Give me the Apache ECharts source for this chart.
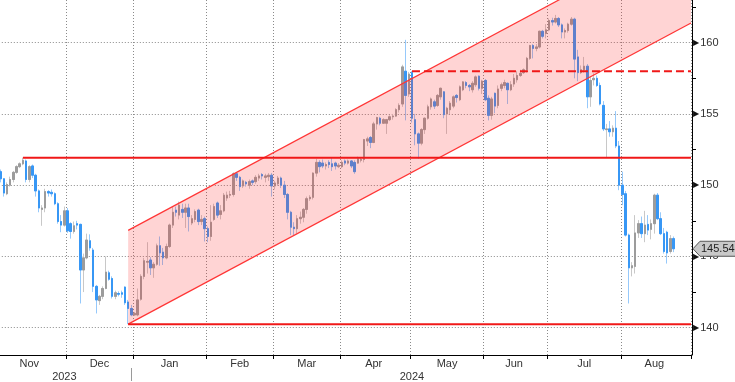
<!DOCTYPE html>
<html><head><meta charset="utf-8">
<script src="https://cdn.jsdelivr.net/npm/echarts@6/dist/echarts.min.js"></script>
<style>html,body{margin:0;padding:0;background:#fff}#c{width:735px;height:382px}</style>
</head><body><div id="c"></div>
<script>
// ---- DATA: daily candles [open, close, low, high] ----
const ohlcNov2023 = [
[151.65,150.95,150.75,151.75],[150.95,150.45,150.2,151.1],[150.45,149.45,149.2,150.5],[149.4,150.05,149.3,150.2],
[150.0,150.4,149.9,150.6],[150.4,150.9,150.2,151.0],[150.9,151.3,150.8,151.4],[151.3,151.5,151.2,151.6],
[151.5,151.75,151.4,151.92],[151.7,150.4,150.2,151.8],[150.4,151.3,150.2,151.4],[151.35,150.7,150.5,151.45],
[150.7,149.6,149.2,150.8],[149.6,148.4,148.1,149.7],[148.3,148.4,147.15,148.6],[148.4,149.55,148.1,149.75],
[149.55,149.45,149.2,149.65],[149.5,149.4,149.2,149.7],[149.4,148.7,148.6,149.5],[148.7,147.45,147.3,148.8],
[147.45,147.2,146.7,147.9],[147.2,148.2,147.1,148.5]];
const ohlcDec2023 = [
[148.2,146.8,146.65,148.4],[147.3,146.75,146.25,147.4],[146.75,147.15,146.6,147.45],[147.3,147.2,146.9,147.5],
[147.25,144.05,141.7,147.3],[144.05,144.9,142.5,145.2],[144.9,146.15,144.8,146.6],[146.1,145.6,145.4,146.55],
[145.45,142.9,142.5,145.6],[142.9,141.95,141.0,143.0],[141.9,142.2,141.6,142.3],[142.2,142.75,142.0,142.9],
[142.75,143.9,142.7,145.0],[143.85,143.4,143.3,144.0],[143.45,142.2,142.05,143.6],[142.2,142.45,142.0,142.6],
[142.4,142.35,142.2,142.55],[142.45,142.35,142.1,142.6],[142.85,141.75,141.6,142.9],[141.8,141.35,140.25,141.95],
[141.35,140.9,140.8,141.6]];
const ohlcJan2024 = [
[140.9,141.0,140.85,141.1],[140.9,141.95,140.8,142.75],[142.0,143.6,141.9,143.75],[143.6,144.7,143.4,144.9],
[144.6,144.65,143.8,146.0],[144.75,144.2,143.7,144.95],[144.2,144.45,143.5,144.6],[144.45,145.75,144.35,145.9],
[145.75,145.25,144.35,146.4],[145.3,144.9,144.4,145.6],[144.9,145.7,144.8,145.9],[145.7,147.2,145.6,147.3],
[147.2,148.1,147.0,148.5],[148.25,148.1,147.8,148.5],[147.9,148.6,147.6,148.85],[148.3,148.1,147.7,148.7],
[148.1,148.4,147.0,148.7],[148.4,147.8,146.75,148.7],[147.35,147.65,147.2,147.9],[147.6,148.15,147.4,148.3],
[148.25,147.45,147.2,148.35],[147.45,147.6,147.2,147.9],[147.65,146.95,146.05,147.8]];
const ohlcFeb2024 = [
[146.95,146.4,146.0,147.1],[146.4,147.4,146.1,148.6],[147.6,148.5,147.5,148.7],[148.75,147.9,147.7,148.85],
[147.95,148.2,147.6,148.6],[148.2,149.3,148.1,149.45],[149.1,149.3,148.9,149.55],[149.3,149.35,149.1,149.6],
[149.35,150.8,149.2,150.9],[150.8,150.55,150.3,150.9],[150.55,149.9,149.6,150.65],[149.95,150.3,149.8,150.4],
[150.2,150.1,149.9,150.3],[150.0,150.25,149.75,150.4],[150.3,150.2,150.0,150.4],[150.25,150.55,150.1,150.7],
[150.5,150.65,150.3,150.8],[150.75,150.65,150.4,150.85],[150.55,150.65,150.2,150.8],[150.6,150.7,150.3,150.85],
[150.7,149.95,149.2,150.85]];
const ohlcMar2024 = [
[149.95,150.15,149.7,150.3],[150.1,150.5,149.95,150.65],[150.5,150.0,149.8,150.6],[150.0,149.35,149.1,150.3],
[149.35,148.1,147.6,149.45],[148.1,147.05,146.5,148.2],[147.05,146.95,146.5,147.4],[146.95,147.65,146.6,147.9],
[147.65,147.75,147.3,148.15],[147.75,148.3,147.4,148.4],[148.3,149.05,148.0,149.2],[149.05,149.15,148.9,149.3],
[149.15,150.85,149.0,150.9],[150.85,151.6,150.6,151.85],[151.6,151.3,150.9,151.75],[151.55,151.35,151.2,151.8],
[151.35,151.45,151.1,151.6],[151.6,151.45,151.2,151.75],[151.5,151.3,151.0,151.97],[151.55,151.35,151.1,151.65],
[151.3,151.4,151.2,151.55]];
const ohlcApr2024 = [
[151.3,151.6,151.2,151.75],[151.7,151.55,151.4,151.8],[151.55,151.7,151.45,151.8],[151.7,151.35,151.2,151.75],
[151.6,150.95,150.8,151.75],[151.55,151.85,151.5,152.0],[151.75,151.8,151.6,151.95],[151.8,153.2,151.6,153.25],
[153.1,153.25,152.75,153.4],[153.35,153.0,152.6,153.45],[153.0,154.3,152.95,154.45],[154.3,154.75,153.9,154.8],
[154.7,154.35,154.2,154.8],[154.35,154.6,154.3,154.7],[154.35,154.6,153.6,154.65],[154.6,154.8,154.5,154.9],
[154.8,154.85,154.6,155.0],[154.85,155.3,154.8,155.4],[155.3,155.6,155.1,155.75],[155.7,158.3,155.5,158.45],
[158.0,156.3,154.55,160.2],[156.4,157.8,156.2,157.95]];
const ohlcMay2024 = [
[157.9,154.7,154.4,158.0],[154.6,153.6,152.8,155.0],[153.6,152.95,151.86,153.7],[152.95,153.9,152.8,154.0],
[153.9,154.7,153.6,154.75],[154.7,155.5,154.6,155.65],[155.5,156.05,155.3,156.15],[155.85,155.55,155.35,156.0],
[155.6,156.3,155.5,156.4],[156.2,156.8,156.0,156.85],[156.55,154.95,154.7,156.6],[155.0,155.4,153.6,155.5],
[155.3,155.75,155.0,155.9],[155.55,156.2,155.4,156.3],[156.3,156.15,155.8,156.4],[156.0,156.9,155.9,157.0],
[156.7,157.25,156.6,157.3],[157.2,157.0,156.8,157.3],[157.0,156.9,156.6,157.1],[156.7,157.15,156.5,157.3],
[157.05,157.6,156.9,157.7],[157.65,156.8,156.65,157.7],[156.8,157.3,156.4,157.4]];
const ohlcJun2024 = [
[157.35,156.0,155.9,157.45],[156.1,154.9,154.55,156.3],[154.9,156.05,154.6,156.2],[156.45,155.55,155.05,156.5],
[155.6,156.75,155.4,157.0],[156.8,157.05,156.6,157.2],[157.0,157.2,156.8,157.4],[157.15,156.7,155.7,157.2],
[156.7,157.05,156.6,157.3],[157.1,157.5,156.9,157.8],[157.4,157.7,157.2,158.0],[157.7,157.85,157.6,158.1],
[157.9,158.1,157.8,158.2],[158.1,158.9,157.9,159.0],[158.9,159.8,158.8,159.85],[159.8,159.6,158.9,159.9],
[159.6,159.7,159.4,159.9],[159.7,160.8,159.6,160.85],[160.8,160.45,160.3,160.9],[160.65,160.9,160.3,161.3]];
const ohlcJul2024 = [
[160.9,161.55,160.8,161.7],[161.55,161.45,161.2,161.75],[161.45,161.7,161.35,161.95],[161.7,161.25,161.1,161.8],
[161.25,160.75,160.3,161.35],[160.75,160.85,160.3,161.0],[160.85,161.3,160.7,161.4],[161.3,161.65,161.2,161.8],
[161.65,158.85,157.5,161.75],[159.0,157.9,157.3,159.5],[157.9,158.1,157.8,158.4],[158.1,158.35,157.9,159.0],
[158.35,156.2,155.4,158.5],[156.2,157.35,155.5,157.6],[157.4,157.5,157.0,157.85],[157.5,157.0,156.9,157.7],
[157.0,155.7,155.6,157.2],[155.6,153.95,153.8,155.9],[153.9,153.95,151.95,154.3],[153.95,153.75,153.4,154.5],
[153.75,154.0,153.4,154.2],[154.0,152.75,152.6,155.2],[152.75,150.0,149.65,153.1]];
const ohlcAug2024 = [
[150.0,149.35,148.6,150.95],[149.4,146.5,146.4,149.6],[146.5,144.2,141.7,146.6],[144.2,144.35,143.6,144.6],
[144.3,146.65,143.8,147.9],[146.65,147.3,146.3,147.55],[147.3,146.6,146.3,147.8],[146.6,147.2,146.0,148.2],
[147.25,146.85,146.5,147.9],[146.9,147.3,146.2,147.6],[147.3,149.3,146.6,149.4],[149.3,147.65,147.55,149.45],
[147.65,146.6,146.5,148.1],[146.6,145.35,145.2,147.0],[146.7,145.25,144.5,146.8],[145.35,146.25,145.2,146.5],
[146.25,145.54,145.3,146.4]];

const monthNames = ['Jan','Feb','Mar','Apr','May','Jun','Jul','Aug','Sep','Oct','Nov','Dec'];
const yLabelValues = [140, 145, 150, 155, 160];
const levelLines = [
  {from: '2023-11-13', value: 151.92, dashed: false},
  {from: '2023-12-28', value: 140.25, dashed: false},
  {from: '2024-05-01', value: 158.0, dashed: true}
];
const channel = {from: '2023-12-28', lowStart: 140.25, to: '2024-08-30', lowEnd: 161.32, width: 6.58};
const lastPrice = 145.54;

// ---- categories: weekdays Nov 1 2023 .. Aug 30 2024 ----
const categories = [];
for (let d = new Date(Date.UTC(2023, 10, 1)); d <= new Date(Date.UTC(2024, 7, 30)); d.setUTCDate(d.getUTCDate() + 1)) {
  const wd = d.getUTCDay();
  if (wd === 0 || wd === 6) continue;
  categories.push(d.toISOString().slice(0, 10));
}
const ohlc = [].concat(ohlcNov2023, ohlcDec2023, ohlcJan2024, ohlcFeb2024, ohlcMar2024,
  ohlcApr2024, ohlcMay2024, ohlcJun2024, ohlcJul2024, ohlcAug2024);

// month starts / label positions
const monthStart = new Set();
const monthLabelIdx = new Map();
let s = 0;
for (let i = 1; i <= categories.length; i++) {
  if (i === categories.length || categories[i].slice(0, 7) !== categories[i - 1].slice(0, 7)) {
    monthStart.add(s);
    const mid = Math.floor((s + i - 1) / 2);
    monthLabelIdx.set(mid, monthNames[parseInt(categories[s].slice(5, 7), 10) - 1]);
    s = i;
  }
}
const yearLabelIdx = new Map();
let ys = 0;
let lastOfFirstYear = -1;
for (let i = 1; i <= categories.length; i++) {
  if (i === categories.length || categories[i].slice(0, 4) !== categories[i - 1].slice(0, 4)) {
    yearLabelIdx.set(Math.floor((ys + i - 1) / 2), categories[ys].slice(0, 4));
    if (lastOfFirstYear < 0 && i < categories.length) lastOfFirstYear = i - 1;
    ys = i;
  }
}

const wickData = ohlc.map(d => [d[0], d[1], d[2], d[3]]);
const bodyData = ohlc.map(d => [d[0], d[1], Math.min(d[0], d[1]), Math.max(d[0], d[1])]);

// ---- layout ----
const W = 735, H = 382;
const gridLeft = -4.2, gridRight = 44, gridTop = 0, gridBottom = 27;
const yMin = 138.084, yMax = 162.996;
const plotH = H - gridTop - gridBottom;
const pxPer = plotH / (yMax - yMin);
const lblMin = 140, lblMax = 165;
const grid2Top = gridTop + (yMax - lblMax) * pxPer;
const grid2Bottom = H - (gridTop + (yMax - lblMin) * pxPer);

const FONT = '"Liberation Sans", Arial, sans-serif';
const chart = echarts.init(document.getElementById('c'), null, {renderer: 'canvas'});

const option = {
  animation: false,
  backgroundColor: '#fff',
  grid: [
    {left: gridLeft, right: gridRight, top: gridTop, bottom: gridBottom, outerBoundsMode: 'none'},
    {left: gridLeft, right: gridRight, top: grid2Top, bottom: grid2Bottom, outerBoundsMode: 'none'}
  ],
  xAxis: [
    {
      type: 'category', gridIndex: 0, data: categories, boundaryGap: true,
      axisLine: {show: true, onZero: false, lineStyle: {color: '#000', width: 1}},
      axisTick: {show: true, interval: (i) => monthStart.has(i), length: 4, lineStyle: {color: '#000'}},
      axisLabel: {show: true, interval: (i) => monthLabelIdx.has(i), formatter: (v, i) => monthLabelIdx.get(i) || '',
        margin: 3, fontSize: 11, fontFamily: FONT, color: '#333'},
      splitLine: {show: true, interval: (i) => monthStart.has(i), lineStyle: {color: '#8a8a8a', width: 1, type: [1, 2]}}
    },
    {
      type: 'category', gridIndex: 0, data: categories, boundaryGap: true, position: 'bottom', offset: 13,
      axisLine: {show: false, onZero: false},
      axisTick: {show: true, alignWithLabel: true, interval: (i) => i === lastOfFirstYear, length: 13, lineStyle: {color: '#9a9a9a'}},
      axisLabel: {show: true, interval: (i) => yearLabelIdx.has(i), formatter: (v, i) => yearLabelIdx.get(i) || '',
        margin: 3, fontSize: 11, fontFamily: FONT, color: '#333'},
      splitLine: {show: false}
    },
    {type: 'value', gridIndex: 1, min: 1, max: 2, show: false}
  ],
  yAxis: [
    {
      type: 'value', gridIndex: 0, position: 'right', offset: 1, min: yMin, max: yMax,
      axisLine: {show: true, onZero: false, lineStyle: {color: '#000', width: 1}},
      axisTick: {show: false}, axisLabel: {show: false}, splitLine: {show: false}
    },
    {
      type: 'value', gridIndex: 1, position: 'right', offset: 1, min: lblMin, max: lblMax, interval: 5,
      axisLine: {show: false, onZero: false},
      axisTick: {show: false},
      minorTick: {show: true, splitNumber: 2, length: 4, lineStyle: {color: '#000', width: 1}},
      axisLabel: {
        show: true, margin: 1,
        formatter: (v) => yLabelValues.indexOf(v) >= 0 ? '{t|\u25B6}{n|' + v + '}' : '',
        rich: {
          t: {fontSize: 8, fontFamily: '"DejaVu Sans"', color: '#111', padding: [0, 1, 0, 0]},
          n: {fontSize: 11, fontFamily: FONT, color: '#333'}
        }
      },
      splitLine: {show: true, lineStyle: {color: '#8a8a8a', width: 1, type: [1, 2]}},
      minorSplitLine: {show: false}
    }
  ],
  series: [
    {
      type: 'candlestick', name: 'wick', xAxisIndex: 0, yAxisIndex: 0, data: wickData, barWidth: 2,
      z: 2, silent: true,
      itemStyle: {color: '#c8c8c8', color0: '#96c9fb', borderColor: '#c8c8c8', borderColor0: '#96c9fb', borderWidth: 1}
    },
    {
      type: 'candlestick', name: 'body', xAxisIndex: 0, yAxisIndex: 0, data: bodyData, barWidth: 2,
      z: 2.5, silent: true,
      itemStyle: {color: '#9c9c9c', color0: '#3797f5', borderColor: '#9c9c9c', borderColor0: '#3797f5', borderWidth: 1}
    },
    {
      type: 'custom', name: 'channel', xAxisIndex: 0, yAxisIndex: 0, z: 3, silent: true, clip: true,
      data: [[categories.indexOf(channel.from), channel.lowStart, categories.indexOf(channel.to), channel.lowEnd, channel.width]],
      encode: {x: [0, 2], y: [1, 3]},
      renderItem: function (params, api) {
        const a = api.coord([api.value(0), api.value(1)]);
        const b = api.coord([api.value(2), api.value(3)]);
        const au0 = api.coord([api.value(0), api.value(1) + api.value(4)]);
        const off = a[1] - au0[1];
        const cs = params.coordSys;
        const xEnd = cs.x + cs.width;
        const slope = (b[1] - a[1]) / (b[0] - a[0]);
        const e = [xEnd, a[1] + slope * (xEnd - a[0])];
        const au = [a[0], a[1] - off];
        const eu = [e[0], e[1] - off];
        return {
          type: 'group',
          children: [
            {type: 'polygon', shape: {points: [a, e, eu, au]}, style: {fill: 'rgba(255,40,40,0.2)'}},
            {type: 'line', shape: {x1: a[0], y1: a[1], x2: e[0], y2: e[1]}, style: {stroke: '#ff3535', lineWidth: 1.2}},
            {type: 'line', shape: {x1: au[0], y1: au[1], x2: eu[0], y2: eu[1]}, style: {stroke: '#ff3535', lineWidth: 1.2}}
          ]
        };
      }
    },
    {
      type: 'custom', name: 'levels', xAxisIndex: 0, yAxisIndex: 0, z: 4, silent: true, clip: true,
      data: levelLines.map(l => [categories.indexOf(l.from), l.value, l.dashed ? 1 : 0]),
      encode: {x: 0, y: 1},
      renderItem: function (params, api) {
        const a = api.coord([api.value(0), api.value(1)]);
        const cs = params.coordSys;
        const xEnd = cs.x + cs.width;
        const dashed = api.value(2) === 1;
        return {
          type: 'line',
          shape: {x1: a[0], y1: a[1], x2: xEnd, y2: a[1]},
          style: {stroke: '#f01818', lineWidth: 2, lineDash: dashed ? [8, 4] : null}
        };
      }
    }
  ]
};
chart.setOption(option);

// last price tag on the value axis
const yPx = chart.convertToPixel({yAxisIndex: 0}, lastPrice);
const tipX = W - gridRight + 2;
chart.setOption({
  graphic: {
    elements: [
      {type: 'polygon', z: 100, silent: true,
        shape: {points: [[tipX, yPx], [tipX + 7, yPx - 7.5], [W + 2, yPx - 7.5], [W + 2, yPx + 7.5], [tipX + 7, yPx + 7.5]]},
        style: {fill: '#c9c9c9', stroke: '#555', lineWidth: 1}},
      {type: 'text', z: 101, silent: true, x: tipX + 8, y: yPx,
        style: {text: lastPrice.toFixed(2), font: '11px ' + FONT, fill: '#222', verticalAlign: 'middle', align: 'left'}}
    ]
  }
});
</script>
</body></html>
